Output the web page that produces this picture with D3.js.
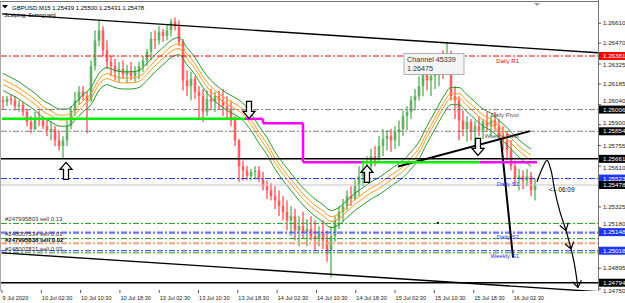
<!DOCTYPE html>
<html><head><meta charset="utf-8">
<script src="https://cdn.jsdelivr.net/npm/d3@7"></script>
<style>
html,body{margin:0;padding:0;background:#fff;}
svg{display:block;font-family:"Liberation Sans",Arial,sans-serif;}
</style></head><body><div id="chart"></div>
<script>
// candles (pseudo bars); open = previous close
const firstOpen=1.2607;
const highs=[1.2610,1.2610,1.2611,1.2610,1.2607,1.2606,1.2601,1.2596,1.2599,1.2600,
1.2596,1.2594,1.2592,1.2589,1.2586,1.2582,1.2593,1.2603,1.2613,1.2617,
1.2617,1.2613,1.2635,1.2656,1.2663,1.2659,1.2649,1.2638,1.2636,1.2634,
1.2635,1.2632,1.2634,1.2631,1.2634,1.2638,1.2643,1.2655,1.2656,1.2659,
1.2657,1.2660,1.2664,1.2665,1.2663,1.2650,1.2628,1.2627,1.2624,1.2617,
1.2615,1.2614,1.2615,1.2613,1.2614,1.2615,1.2610,1.2607,1.2596,1.2580,
1.2565,1.2561,1.2559,1.2561,1.2561,1.2557,1.2551,1.2549,1.2547,1.2544,
1.2540,1.2537,1.2533,1.2531,1.2526,1.2529,1.2524,1.2526,1.2523,1.2519,
1.2523,1.2516,1.2519,1.2526,1.2533,1.2538,1.2544,1.2547,1.2552,1.2561,
1.2565,1.2568,1.2573,1.2575,1.2582,1.2587,1.2586,1.2587,1.2589,1.2593,
1.2600,1.2603,1.2610,1.2615,1.2624,1.2634,1.2635,1.2631,1.2634,1.2638,
1.2642,1.2648,1.2642,1.2617,1.2610,1.2600,1.2596,1.2594,1.2593,1.2596,
1.2594,1.2599,1.2596,1.2599,1.2594,1.2589,1.2585,1.2579,1.2565,1.2559,
1.2558,1.2559,1.2557,1.2552];
const lows=[1.2601,1.2603,1.2604,1.2600,1.2599,1.2596,1.2589,1.2584,1.2586,1.2589,
1.2587,1.2582,1.2579,1.2575,1.2572,1.2566,1.2575,1.2587,1.2596,1.2604,
1.2607,1.2584,1.2606,1.2628,1.2645,1.2638,1.2629,1.2624,1.2621,1.2620,
1.2622,1.2619,1.2621,1.2620,1.2622,1.2627,1.2631,1.2635,1.2643,1.2646,
1.2648,1.2649,1.2652,1.2656,1.2645,1.2614,1.2610,1.2607,1.2608,1.2594,
1.2592,1.2596,1.2600,1.2599,1.2601,1.2596,1.2594,1.2589,1.2575,1.2550,
1.2551,1.2551,1.2551,1.2552,1.2550,1.2544,1.2538,1.2537,1.2531,1.2526,
1.2523,1.2516,1.2512,1.2509,1.2505,1.2510,1.2505,1.2509,1.2502,1.2505,
1.2503,1.2494,1.2483,1.2508,1.2517,1.2522,1.2530,1.2533,1.2537,1.2540,
1.2547,1.2554,1.2558,1.2561,1.2565,1.2568,1.2572,1.2571,1.2573,1.2575,
1.2582,1.2586,1.2594,1.2600,1.2607,1.2610,1.2614,1.2610,1.2615,1.2617,
1.2622,1.2628,1.2607,1.2594,1.2579,1.2582,1.2578,1.2579,1.2575,1.2582,
1.2580,1.2585,1.2582,1.2586,1.2579,1.2572,1.2565,1.2558,1.2547,1.2544,
1.2545,1.2547,1.2540,1.2537];
const closes=[1.2606,1.2608,1.2607,1.2603,1.2604,1.2599,1.2592,1.2587,1.2594,1.2593,
1.2589,1.2586,1.2587,1.2579,1.2575,1.2579,1.2589,1.2600,1.2607,1.2613,
1.2610,1.2607,1.2631,1.2649,1.2656,1.2642,1.2634,1.2631,1.2627,1.2629,
1.2625,1.2628,1.2624,1.2627,1.2631,1.2635,1.2641,1.2650,1.2649,1.2655,
1.2652,1.2656,1.2662,1.2659,1.2648,1.2621,1.2617,1.2622,1.2613,1.2610,
1.2599,1.2608,1.2606,1.2610,1.2607,1.2603,1.2600,1.2593,1.2579,1.2561,
1.2558,1.2554,1.2557,1.2558,1.2552,1.2547,1.2544,1.2540,1.2537,1.2533,
1.2529,1.2523,1.2526,1.2516,1.2519,1.2515,1.2517,1.2512,1.2510,1.2515,
1.2509,1.2502,1.2512,1.2523,1.2529,1.2533,1.2540,1.2538,1.2547,1.2554,
1.2559,1.2561,1.2568,1.2565,1.2575,1.2580,1.2582,1.2579,1.2585,1.2587,
1.2596,1.2599,1.2607,1.2610,1.2617,1.2628,1.2621,1.2624,1.2627,1.2634,
1.2629,1.2638,1.2610,1.2607,1.2593,1.2587,1.2592,1.2585,1.2589,1.2586,
1.2592,1.2589,1.2593,1.2589,1.2582,1.2579,1.2572,1.2561,1.2552,1.2554,
1.2551,1.2554,1.2544,1.25478];

// envelope centre, one value every 2 bars
const bandMid=[1.2620,1.2617,1.2614,1.2610,1.2606,1.2601,1.2598,1.2595,1.2595,1.2599,
1.2605,1.2610,1.2620,1.2624,1.2622,1.2621,1.2621,1.2622,1.2627,1.2633,
1.2638,1.2643,1.2645,1.2638,1.2631,1.2622,1.2615,1.2610,1.2606,1.2603,
1.2599,1.2592,1.2583,1.2575,1.2565,1.2557,1.2550,1.2543,1.2537,1.2532,
1.2528,1.2524,1.2526,1.2531,1.2536,1.2540,1.2544,1.2547,1.2551,1.2555,
1.2559,1.2565,1.2572,1.2583,1.2593,1.2603,1.2610,1.2610,1.2605,1.2600,
1.2595,1.2592,1.2587,1.2582,1.2576,1.2571,1.2567];
const bandOffsets=[-0.00060,-0.00017,0.00017,0.00060];

const priceTicks=[1.26610,1.26470,1.26325,1.26185,1.26040,1.25900,1.25755,1.25610,1.25470,1.25325,1.25180,1.25040,1.24895,1.24750];
const timeLabels=["9 Jul 2020","10 Jul 02:30","10 Jul 10:30","10 Jul 18:30","13 Jul 02:30","13 Jul 10:30","13 Jul 18:30","14 Jul 02:30","14 Jul 10:30","14 Jul 18:30","15 Jul 02:30","15 Jul 10:30","15 Jul 18:30","16 Jul 02:30"];
const timeHours=[0,8,16,24,32,40,48,56,64,72,80,88,96,104];

const levelNames=["Daily R1","Daily Pivot","Weekly Pivot","","Daily S1","","Daily S2","Weekly S1",""];
const levelPrices=[1.26381,1.26006,1.25854,1.25661,1.25523,1.25478,1.25148,1.25018,1.24794];
const levelKinds=["r","p","p","line","s","bid","s","s","line"];

const orderPrices=[1.25209,1.25138,1.25103,1.25071,1.25003];
const orderKinds=["entry","lav","entry","stop","entry"];
const orderLabels=["#247995803 sell 0.13","#248007534 sell 0.01","#247995838 sell 0.02","","#248007821 sell 0.03"];
const orderLabelPrices=[1.25240,1.25138,1.25095,null,1.25030];

const channelTop=[[-0.25,1.26676],[148.75,1.26404]];
const channelBottom=[[-0.25,1.25003],[148.75,1.24731]];
const riseLine=[[98.75,1.25608],[131.75,1.25855]];
const dropLine=[[124.5,1.2579],[127.5,1.24971]];
const forecast=[[133.5,1.2550],[134.75,1.2559],[136,1.2565],[137,1.2558],[138,1.2543],[139.25,1.2529],[140.75,1.2516],[142,1.2503],[142.75,1.2494],[143.75,1.2476]];
const forecastHeads=[6,7,9];

const stepFrom=[-0.25,60.5,65,75,89.75,119.25];
const stepTo=[60.5,65,75,89.75,119.25,133.5];
const stepPrice=[1.25941,1.25941,1.25910,1.25638,1.25638,1.25638];
const stepTrend=["up","down","down","down","up","down"];

const signalBars=[15.75,61.5,91,118.75];
const signalPrices=[1.25636,1.25944,1.25615,1.25685];
const signalDirs=["up","down","up","down"];

const W=625,H=303,plotR=598,plotT=2,plotB=291;
const x=d3.scaleLinear().domain([0,149]).range([3,599]);
const y=d3.scaleLinear().domain([1.24736,1.26759]).range([plotB,plotT]);
const xt=d3.scaleLinear().domain([0,104]).range([x(-0.25),x(127.5)]);

const svg=d3.select("#chart").append("svg").attr("width",W).attr("height",H);
svg.append("rect").attr("width",W).attr("height",H).attr("fill","#fff");
svg.append("clipPath").attr("id","clip").append("rect").attr("x",1).attr("y",plotT).attr("width",plotR-1).attr("height",plotB-plotT);
const g=svg.append("g").attr("clip-path","url(#clip)");

// candles
const candles=closes.map((c,i)=>({i,o:i?closes[i-1]:firstOpen,h:highs[i],l:lows[i],c}));
g.selectAll(".body").data(candles).join("rect")
  .attr("x",d=>x(d.i)-1.5).attr("width",3)
  .attr("y",d=>y(Math.max(d.o,d.c))).attr("height",d=>Math.max(1,Math.abs(y(d.o)-y(d.c))))
  .attr("fill",d=>d.c>=d.o?"#9fd09f":"#ffa3a3");
g.selectAll(".wick").data(candles).join("line")
  .attr("x1",d=>x(d.i)).attr("x2",d=>x(d.i))
  .attr("y1",d=>y(Math.max(d.h,d.o,d.c))).attr("y2",d=>y(Math.min(d.l,d.o,d.c)))
  .attr("stroke",d=>d.c>=d.o?"#1f9a1f":"#ff1a1a").attr("stroke-width",1);

// envelope lines
bandOffsets.forEach((off,k)=>{
  const ln=d3.line().x((d,i)=>x(i*2)).y(d=>y(d+off)).curve(d3.curveMonotoneX);
  g.append("path").attr("d",ln(bandMid)).attr("fill","none")
    .attr("stroke",k===0||k===3?"#2a9a2a":"#ff9a1a").attr("stroke-width",1);
});

// pivot / level lines
const dash="6 2 2 2";
const levelStyle={r:["#ff0000",1,dash],p:["#808080",1,dash],line:["#000",1.5,null],s:["#2233ff",1,dash],bid:["#c0c0c0",1,null]};
levelPrices.forEach((p,k)=>{
  const st=levelStyle[levelKinds[k]];
  g.append("line").attr("x1",1).attr("x2",plotR).attr("y1",y(p)).attr("y2",y(p))
    .attr("stroke",st[0]).attr("stroke-width",st[1]).attr("stroke-dasharray",st[2]);
});
const orderStyle={entry:["#2a9a2a",1],lav:["#8c8cff",1],stop:["#ffa07a",2]};
orderPrices.forEach((p,k)=>{
  const st=orderStyle[orderKinds[k]];
  g.append("line").attr("x1",1).attr("x2",plotR).attr("y1",y(p)).attr("y2",y(p))
    .attr("stroke",st[0]).attr("stroke-width",st[1]).attr("stroke-dasharray",dash);
});

// channel and trend lines
const pl=d3.line().x(d=>x(d[0])).y(d=>y(d[1]));
[channelTop,channelBottom].forEach(c=>g.append("path").attr("d",pl(c)).attr("stroke","#000").attr("stroke-width",1.4).attr("fill","none"));
[riseLine,dropLine].forEach(c=>g.append("path").attr("d",pl(c)).attr("stroke","#000").attr("stroke-width",2).attr("fill","none"));

// trend step line
stepFrom.forEach((f,k)=>{
  const col=stepTrend[k]==="up"?"#00f000":"#ff00ff";
  g.append("line").attr("x1",x(f)).attr("x2",x(stepTo[k])).attr("y1",y(stepPrice[k])).attr("y2",y(stepPrice[k]))
    .attr("stroke",col).attr("stroke-width",2.5);
  if(k>0&&stepPrice[k]!==stepPrice[k-1])
    g.append("line").attr("x1",x(f)).attr("x2",x(f)).attr("y1",y(stepPrice[k-1])).attr("y2",y(stepPrice[k]))
      .attr("stroke","#ff00ff").attr("stroke-width",2.5);
});

// hollow signal arrows
const arrowUp="M0,0 L6,7 L2.5,7 L2.5,17 L-2.5,17 L-2.5,7 L-6,7 Z";
signalBars.forEach((b,k)=>{
  g.append("path").attr("d",arrowUp)
    .attr("transform",`translate(${x(b)},${y(signalPrices[k])})${signalDirs[k]==="down"?" scale(1,-1)":""}`)
    .attr("fill","#fff").attr("stroke","#000").attr("stroke-width",1.3);
});

// forecast path with open heads
g.append("path").attr("d",d3.line().x(d=>x(d[0])).y(d=>y(d[1])).curve(d3.curveCatmullRom)(forecast))
  .attr("fill","none").attr("stroke","#000").attr("stroke-width",1.2);
forecastHeads.forEach(k=>{
  const a=forecast[k],b=forecast[k-1];
  const tx=x(a[0]),ty=y(a[1]),ang=Math.atan2(ty-y(b[1]),tx-x(b[0]));
  [-0.6,0.6].forEach(s=>{
    g.append("line").attr("x1",tx).attr("y1",ty)
      .attr("x2",tx-8*Math.cos(ang+s)).attr("y2",ty-8*Math.sin(ang+s))
      .attr("stroke","#000").attr("stroke-width",1.2);
  });
});
g.append("circle").attr("cx",x(108.75)).attr("cy",y(1.25213)).attr("r",1).attr("fill","#000");

// level text labels
const levelColor={r:"#ff0000",p:"#555",s:"#2233ff"};
levelPrices.forEach((p,k)=>{
  if(!levelNames[k])return;
  g.append("text").attr("x",x(129)).attr("y",y(p)+7).attr("text-anchor","end")
    .attr("font-size",6).attr("fill",levelColor[levelKinds[k]]).text(levelNames[k]);
});
orderLabels.forEach((t,k)=>{
  if(!t)return;
  g.append("text").attr("x",5).attr("y",y(orderLabelPrices[k])+2).attr("font-size",6)
    .attr("fill",k===2?"#000":"#333").attr("font-weight",k===2?"bold":null).text(t);
});

// channel tooltip
const tipX=x(111.5),tipY=y(1.26475);
svg.append("rect").attr("x",tipX-45).attr("y",tipY+11).attr("width",60).attr("height",21)
  .attr("fill","#f4f4f4").attr("stroke","#a0a0a0").attr("stroke-width",0.8);
svg.append("text").attr("x",tipX-42).attr("y",tipY+19.5).attr("font-size",7.2).attr("fill","#333").text("Channel 45339");
svg.append("text").attr("x",tipX-42).attr("y",tipY+28.5).attr("font-size",7.2).attr("fill","#333").text("1.26475");

svg.append("text").attr("x",x(136.5)).attr("y",y(1.25478)+7).attr("font-size",6.3).attr("fill","#000").text("<-- 06:09");

// title
svg.append("path").attr("d","M2,5 L8,5 L5,8.5 Z").attr("fill","#000");
svg.append("text").attr("x",12).attr("y",10).attr("font-size",6).attr("fill","#000")
  .text("GBPUSD,M15  1.25439 1.25500 1.25431 1.25478");
svg.append("text").attr("x",4).attr("y",17).attr("font-size",5.5).attr("fill","#000").text("Scalping, Surroguard");
svg.append("path").attr("d",`M${x(133.5)-3},3 L${x(133.5)+3},3 L${x(133.5)},6 Z`).attr("fill","#999");

// frame
svg.append("line").attr("x1",0.5).attr("x2",0.5).attr("y1",plotT).attr("y2",plotB).attr("stroke","#aaa");
svg.append("line").attr("x1",0).attr("x2",plotR).attr("y1",1.5).attr("y2",1.5).attr("stroke","#777");
svg.append("line").attr("x1",plotR+0.5).attr("x2",plotR+0.5).attr("y1",0).attr("y2",plotB).attr("stroke","#777");

// price axis: a tick label next to a level box is pushed away from it, or left out when fully covered
priceTicks.forEach(p=>{
  svg.append("line").attr("x1",plotR).attr("x2",plotR+3).attr("y1",y(p)).attr("y2",y(p)).attr("stroke","#555");
  const q=levelPrices[d3.minIndex(levelPrices,v=>Math.abs(y(v)-y(p)))];
  const gap=y(p)-y(q);
  if(Math.abs(gap)<4)return;
  const shift=Math.abs(gap)<8.5?Math.sign(gap)*(8.5-Math.abs(gap)):0;
  svg.append("text").attr("x",603).attr("y",y(p)+2.2+shift).attr("font-size",6.2).attr("fill","#222").text(p.toFixed(5));
});
const boxColor={r:"#ff0000",p:"#000",line:"#000",s:"#2233ff",bid:"#000"};
levelPrices.forEach((p,k)=>{
  svg.append("rect").attr("x",plotR+1).attr("y",y(p)-4).attr("width",W-plotR).attr("height",8).attr("fill",boxColor[levelKinds[k]]);
  svg.append("text").attr("x",603).attr("y",y(p)+2.2).attr("font-size",6.2).attr("fill","#fff").text(p.toFixed(5));
});

// time axis
timeHours.forEach((h,k)=>{
  svg.append("line").attr("x1",xt(h)).attr("x2",xt(h)).attr("y1",plotB-1).attr("y2",plotB+2).attr("stroke","#555");
  svg.append("text").attr("x",xt(h)+0.5).attr("y",299.5).attr("font-size",5.6).attr("fill","#222").text(timeLabels[k]);
});
</script></body></html>
